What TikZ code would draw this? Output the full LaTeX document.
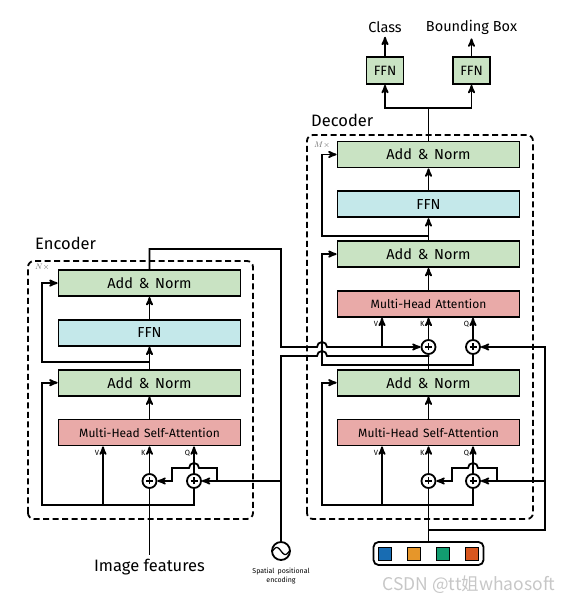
\documentclass[tikz,border=0pt]{standalone}
\usepackage{fontspec}
\setmainfont{Fira Sans}
\newfontfamily\cjk{Noto Sans CJK SC}
\usepackage{tikz}
\usetikzlibrary{positioning, arrows}
\definecolor{normgreen}{RGB}{201,227,195}
\definecolor{ffncyan}{RGB}{196,232,234}
\definecolor{attnred}{RGB}{233,170,168}
\definecolor{qblue}{RGB}{24,108,178}
\definecolor{qorange}{RGB}{230,150,42}
\definecolor{qgreen}{RGB}{18,156,112}
\definecolor{qred}{RGB}{216,86,30}
\newcommand{\addnorm}{Add\hspace{.4em}\&\hspace{.4em}Norm}
\tikzset{
>=stealth', % bold arrow heads
node distance=22pt, % gap between two stacked blocks
block/.style={draw, minimum width=182pt, minimum height=26pt, inner sep=0pt, font=\fontsize{14.5}{16}\selectfont}, % one sub-layer
addnorm/.style={block, fill=normgreen},
ffn/.style={block, fill=ffncyan},
attn/.style={block, fill=attnred, font=\fontsize{12}{14}\selectfont},
headffn/.style={draw, fill=normgreen, minimum width=37pt, minimum height=27pt, inner sep=0pt, font=\fontsize{13.5}{15}\selectfont},
addcircle/.style={circle, draw, fill=white, minimum size=14pt, inner sep=0pt,
  path picture={\draw[line width=1.3pt] ([xshift=-3.5pt]path picture bounding box.center) -- ([xshift=3.5pt]path picture bounding box.center)
  ([yshift=-3.5pt]path picture bounding box.center) -- ([yshift=3.5pt]path picture bounding box.center);}}, % the sum of two inputs
layerbox/.style={dashed, dash pattern=on 6pt off 3.5pt, rounded corners=6pt}, % repeated N or M times
title/.style={anchor=west, font=\fontsize{16.5}{18}\selectfont},
qkv/.style={font=\fontsize{7.5}{8}\selectfont, inner sep=0pt, anchor=north east, xshift=-3pt, yshift=-3pt},
times/.style={anchor=west, text=black!60, font=\fontsize{8.5}{9}\selectfont},
}

\begin{document}
\begin{tikzpicture}[x=1pt, y=1pt, line width=1.8pt]
  \useasboundingbox (0,0) rectangle (572,604);

  \draw[layerbox] (28,85) rectangle (253,343);
  \draw[layerbox] (307,85) rectangle (533,469);
  \node[title] at (31,361) {Encoder};
  \node[title] at (307,484) {Decoder};
  \node[times] at (31,337) {$N\times$};
  \node[times] at (310,459) {$M\times$};

  % encoder
  \node[attn] (emhsa) at (149.5,171.5) {Multi-Head\hspace{.35em}Self-Attention};
  \node[addnorm, above=of emhsa] (ean1) {\addnorm};
  \node[ffn, above=of ean1] (effn) {FFN};
  \node[addnorm, above=of effn] (ean2) {\addnorm};
  \node[addcircle] (epk) at (149.5,123) {};
  \node[addcircle] (epq) at (194,123) {};
  \node[font=\fontsize{16.5}{18}\selectfont] (imgf) at (149.5,37) {Image features};

  % positional encoding
  \node[circle, draw, minimum size=18pt, inner sep=0pt] (pos) at (281,53) {};
  \draw[line width=1.3pt] plot[domain=-1:1, samples=30] ({281+\x*8.5}, {53-3.5*sin(\x*180)});
  \node[font=\fontsize{7}{8.5}\selectfont, align=center, below=3pt of pos] (posl) {Spatial\hspace{.45em}positional\\encoding};

  % decoder
  \node[attn] (dmhsa) at (428.5,171.5) {Multi-Head\hspace{.35em}Self-Attention};
  \node[addnorm, above=of dmhsa] (dan1) {\addnorm};
  \node[attn, above=51pt of dan1] (dmha) {Multi-Head\hspace{.35em}Attention};
  \node[addnorm, above=of dmha] (dan2) {\addnorm};
  \node[ffn, above=of dan2] (dffn) {FFN};
  \node[addnorm, above=of dffn] (dan3) {\addnorm};
  \node[addcircle] (dpk0) at (428.5,123) {};
  \node[addcircle] (dpq0) at (473,123) {};
  \node[addcircle] (dpk1) at (428.5,257) {};
  \node[addcircle] (dpq1) at (473,257) {};

  % prediction heads
  \node[headffn] (ffnc) at (385,533.5) {FFN};
  \node[headffn] (ffnb) at (471.5,533.5) {FFN};
  \node[font=\fontsize{14.5}{16}\selectfont] (cls) at (385,577) {Class};
  \node[font=\fontsize{14.5}{16}\selectfont] (bbx) at (471.5,577) {Bounding Box};

  % object queries
  \node[draw, rounded corners=5pt, minimum width=110pt, minimum height=23pt] (qbox) at (428.5,50.5) {};
  \foreach \c [count=\i] in {qblue,qorange,qgreen,qred}
    \node[draw, line width=0.8pt, fill=\c, minimum size=13pt, inner sep=0pt] (q\i) at (356+29*\i,50.5) {};

  \coordinate (ev) at (103,99);
  \coordinate (er) at (149.5,242);
  \coordinate (pe) at (281,123);
  \coordinate (pk) at (217,123);
  \coordinate (dv0) at (382,99);
  \coordinate (dv1) at (382,257);
  \coordinate (dj) at (428.5,239);
  \coordinate (dr) at (428.5,368);
  \coordinate (dt) at (428.5,496);
  \coordinate (qj) at (428.5,74);
  \coordinate (qe) at (545,123);
  \coordinate (qk) at (497,123);

  % encoder wiring
  \draw (imgf) -- (epk);
  \draw[->] (epk) -- (emhsa.south -| epk);
  \draw[->] (epq) -- (emhsa.south -| epq);
  \draw[->] (epq.south) |- (42,99) |- (ean1.west);
  \draw[->] (ev) -- (ev |- emhsa.south);
  \draw[->] (emhsa) -- (ean1);
  \draw[->] (ean1) -- (effn);
  \draw[->] (effn) -- (ean2);
  \draw[->] (er) -- (42,242) |- (ean2.west);
  \draw (pos.north) |- (317,248) arc[start angle=180, end angle=0, radius=5pt] -| (dpk1.south);
  \draw[->] (pe) -- (epq.east);
  \draw[->] (pk) -- (217,136) -- (199,136) arc[start angle=0, end angle=180, radius=5pt] -- (172,136) |- (epk.east);
  \draw[->] (ean2.north) |- (281,355) |- (317,257) arc[start angle=180, end angle=0, radius=5pt] -- (dpk1.west);

  % decoder wiring
  \draw (qbox.north) -- (dpk0);
  \draw[->] (dpk0) -- (dmhsa);
  \draw[->] (dpq0) -- (dmhsa.south -| dpq0);
  \draw[->] (dpq0.south) |- (322,99) |- (dan1.west);
  \draw[->] (dv0) -- (dv0 |- dmhsa.south);
  \draw[->] (qj) -- (545,74) |- (dpq1.east);
  \draw[->] (qe) -- (dpq0.east);
  \draw[->] (qk) -- (497,136) -- (478,136) arc[start angle=0, end angle=180, radius=5pt] -- (452,136) |- (dpk0.east);
  \draw[->] (dmhsa) -- (dan1);
  \draw (dan1.north) -- (dpk1.south);
  \draw (dj) -| (dpq1.south);
  \draw[->] (dj) -- (322,239) |- (dan2.west);
  \draw[->] (dv1) -- (dv1 |- dmha.south);
  \draw[->] (dpk1) -- (dmha);
  \draw[->] (dpq1) -- (dmha.south -| dpq1);
  \draw[->] (dmha) -- (dan2);
  \draw[->] (dan2) -- (dffn);
  \draw[->] (dffn) -- (dan3);
  \draw[->] (dr) -- (322,368) |- (dan3.west);
  \draw (dan3.north) -- (dt);
  \draw[->] (dt) -| (ffnc.south);
  \draw[->] (dt) -| (ffnb.south);
  \draw[->] (ffnc) -- (cls);
  \draw[->] (ffnb) -- (bbx);

  % V K Q
  \node[qkv] at (ev |- emhsa.south) {V};
  \node[qkv] at (epk |- emhsa.south) {K};
  \node[qkv] at (epq |- emhsa.south) {Q};
  \node[qkv] at (dv0 |- dmhsa.south) {V};
  \node[qkv] at (dpk0 |- dmhsa.south) {K};
  \node[qkv] at (dpq0 |- dmhsa.south) {Q};
  \node[qkv] at (dv1 |- dmha.south) {V};
  \node[qkv] at (dpk1 |- dmha.south) {K};
  \node[qkv] at (dpq1 |- dmha.south) {Q};

  \node[text=black!22, font=\cjk\fontsize{17.5}{19}\selectfont] (wm) at (469,19) {CSDN @tt姐whaosoft};
\end{tikzpicture}
\end{document}
